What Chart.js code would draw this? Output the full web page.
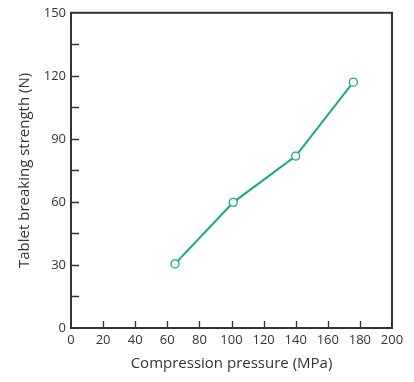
<!DOCTYPE html>
<html><head><meta charset="utf-8">
<script src="https://cdn.jsdelivr.net/npm/chart.js@4/dist/chart.umd.min.js"></script>
<style>html,body{margin:0;padding:0;background:#fff}#wrap{width:414px;height:382px}</style>
</head><body><div id="wrap"><canvas id="c" width="414" height="382"></canvas></div>
<script>
const pressure = [64.8, 101.1, 140.0, 175.9];
const strength = [30.5, 59.8, 81.8, 117.0];
const xTitle = 'Compression pressure (MPa)';
const yTitle = 'Tablet breaking strength (N)';
const FONT = 'Open Sans';
const TEXT = '#333333';
const AXIS = '#333333';
const LINE = '#1aa68b';

const innerTicks = {
  id: 'innerTicks',
  afterDatasetsDraw(chart) {
    const {ctx, chartArea: a, scales: {x, y}} = chart;
    ctx.save();
    ctx.strokeStyle = AXIS;
    ctx.lineWidth = 1.3;
    ctx.beginPath();
    x.ticks.forEach(t => {
      if (t.value <= x.min || t.value >= x.max) return;
      const px = Math.round(x.getPixelForValue(t.value)) + 0.5;
      ctx.moveTo(px, a.bottom); ctx.lineTo(px, a.bottom - 7);
    });
    y.ticks.forEach(t => {
      if (t.value <= y.min || t.value >= y.max) return;
      const py = Math.round(y.getPixelForValue(t.value)) + 0.5;
      ctx.moveTo(a.left, py); ctx.lineTo(a.left + 8, py);
    });
    ctx.stroke();
    ctx.lineWidth = 2;
    ctx.strokeRect(a.left, a.top, a.right - a.left, a.bottom - a.top);
    ctx.restore();
  }
};

new Chart(document.getElementById('c'), {
  type: 'scatter',
  data: {
    datasets: [{
      data: pressure.map((p, i) => ({x: p, y: strength[i]})),
      showLine: true,
      borderColor: LINE,
      borderWidth: 2,
      pointRadius: 4,
      pointBorderWidth: 1.3,
      pointBackgroundColor: '#ffffff',
      pointBorderColor: LINE
    }]
  },
  options: {
    responsive: false,
    animation: false,
    devicePixelRatio: 1,
    layout: {padding: {top: 8, right: 22, bottom: 0, left: 0}},
    plugins: {legend: {display: false}, tooltip: {enabled: false}},
    scales: {
      x: {
        type: 'linear', min: 0, max: 200,
        grid: {display: false, drawTicks: false},
        border: {display: false},
        ticks: {stepSize: 20, padding: 4, color: TEXT, font: {family: FONT, size: 13}, maxRotation: 0, autoSkip: false},
        title: {display: true, text: xTitle, color: TEXT, font: {family: FONT, size: 15}, padding: {top: 4, bottom: 9}},
        afterFit(s) { s.height = 54; }
      },
      y: {
        type: 'linear', min: 0, max: 150,
        grid: {display: false, drawTicks: false},
        border: {display: false},
        ticks: {stepSize: 15, padding: 5, color: TEXT, font: {family: FONT, size: 13}, autoSkip: false,
          callback: v => (v % 30 === 0 ? String(v) : '')},
        title: {display: true, text: yTitle, color: TEXT, font: {family: FONT, size: 15}, padding: {top: 16, bottom: 4}},
        afterFit(s) { s.width = 71; }
      }
    }
  },
  plugins: [innerTicks]
});
</script></body></html>
